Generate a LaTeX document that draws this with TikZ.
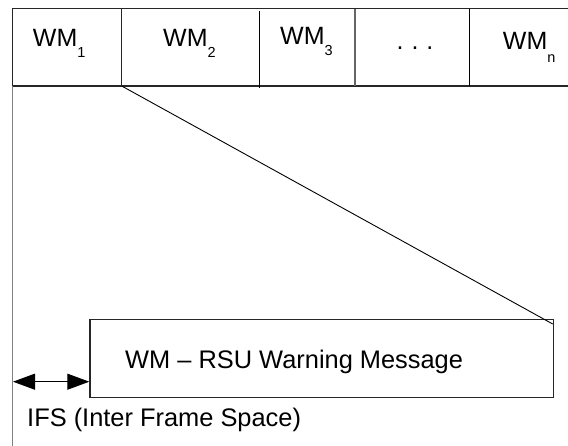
\documentclass[tikz,border=0pt]{standalone}
\usepackage{fontspec}
\setmainfont{Liberation Sans}
\usetikzlibrary{arrows.meta}
\begin{document}
\begin{tikzpicture}[x=1pt,y=-1pt,
  lbl/.style={anchor=base west,inner sep=0pt,font=\fontsize{25}{30}\selectfont},
  frame/.style={line width=1.2pt,draw=black!85},
  grayline/.style={line width=1.5pt,draw=black!50},
  thin/.style={line width=0.9pt,draw=black}]
\useasboundingbox (0,0) rectangle (568,446);
\newcommand{\sbs}[2]{\raisebox{-#1pt}{\fontsize{14.5}{15}\selectfont #2}}
% top row
\coordinate (tl) at (12.7,8.7);
\coordinate (tr) at (568,8.7);
\coordinate (bl) at (12.7,86);
\coordinate (br) at (568,86);
\draw[frame] (tr) -- (tl) -- (bl) -- (br);
\coordinate (d1t) at (121.7,8.7); \coordinate (d1b) at (121.7,86);
\coordinate (d2t) at (259.3,11);  \coordinate (d2b) at (259.3,88);
\coordinate (d3t) at (355,8.7);   \coordinate (d3b) at (355,86);
\coordinate (d4t) at (469.3,8.7); \coordinate (d4b) at (469.3,86);
\draw[frame] (d1t) -- (d1b);
\draw[frame,draw=black] (d2t) -- (d2b);
\draw[frame,draw=black!60] (d3t) -- (d3b);
\draw[frame,draw=black] (d4t) -- (d4b);
% left long line
\coordinate (lb) at (12.7,446);
\draw[grayline] (bl) -- (lb);
% labels in top row
\node[lbl] (wm1) at (32.7,46.7) {WM\sbs{11}{1}};
\node[lbl] (wm2) at (163,46.7) {WM\sbs{11}{2}};
\node[lbl] (wm3) at (280,45) {WM\sbs{11}{3}};
\node[lbl,anchor=base] (dots) at (415,50) {.\hspace{8pt}.\hspace{8pt}.};
\node[lbl] (wmn) at (502.7,50) {WM\sbs{13}{n}};
% message box
\node[draw=black!85,line width=1.2pt,minimum width=463.4pt,minimum height=78pt,
      inner sep=0pt,anchor=north west] (msg) at (89.3,319.3) {};
\node[lbl,font=\fontsize{25.4}{30}\selectfont] (msgtxt) at (125,369) {WM -- RSU Warning Message};
% diagonal
\coordinate (dg) at (552.7,324);
\draw[thin] (d1b) -- (dg);
% IFS arrow
\coordinate (al) at (13,381.7);
\coordinate (ar) at (89.3,381.7);
\draw[line width=1pt,{Triangle[length=22pt,width=16pt]}-{Triangle[length=22pt,width=16pt]}] (al) -- (ar);
\node[lbl,font=\fontsize{25.4}{30}\selectfont] (ifs) at (27,427) {IFS (Inter Frame Space)};
\end{tikzpicture}
\end{document}
